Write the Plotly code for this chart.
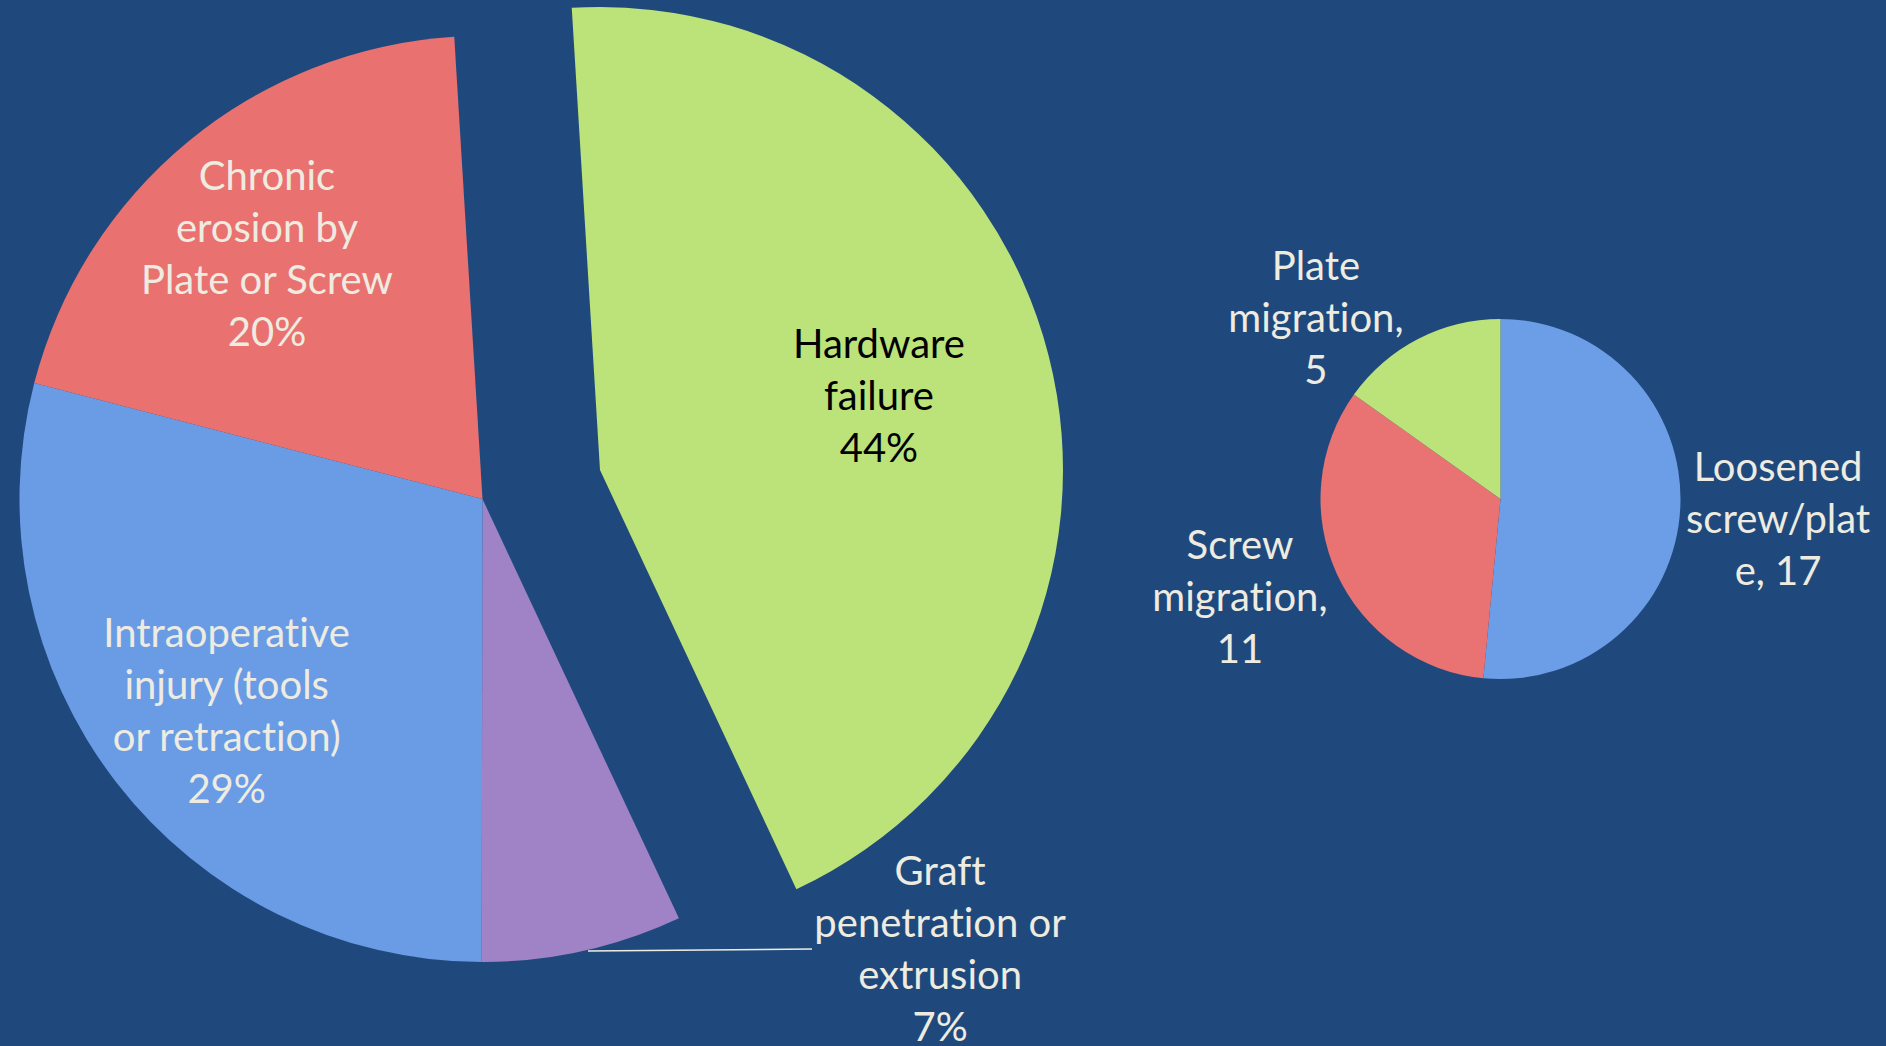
import plotly.graph_objects as go

# ---------------- data ----------------
big_labels = ["Hardware failure", "Graft penetration or extrusion",
              "Intraoperative injury (tools or retraction)", "Chronic erosion by Plate or Screw"]
big_values = [44, 7, 29, 20]
big_text = ["Hardware<br>failure", "Graft<br>penetration or<br>extrusion",
            "Intraoperative<br>injury (tools<br>or retraction)", "Chronic<br>erosion by<br>Plate or Screw"]

small_labels = ["Loosened screw/plate", "Screw migration", "Plate migration"]
small_values = [17, 11, 5]
small_text = ["Loosened<br>screw/plat<br>e", "Screw<br>migration,", "Plate<br>migration,"]

# ---------------- styling / layout ----------------
W, H = 1886, 1046
BG = "#1F497D"
TXT = "#EEECE1"
big_colors = ["#BCE27A", "#A083C6", "#6A9CE6", "#E97271"]
small_colors = ["#6C9DE7", "#E87372", "#BCE27A"]
FONT = "Lato"


def dom(cx, cy, r):
    return dict(x=[(cx - r) / W, (cx + r) / W], y=[1 - (cy + r) / H, 1 - (cy - r) / H])


BIG_C, BIG_R = (482.5, 499), 463
HW_C = (600, 470)          # exploded hardware slice centre
SMALL_C, SMALL_R = (1500.5, 499), 180

fig = go.Figure()

# main pie (hardware slice left transparent; drawn separately, exploded)
fig.add_trace(go.Pie(
    labels=big_labels, values=big_values, sort=False, direction="clockwise",
    rotation=-3.5, textinfo="none", hoverinfo="label+percent",
    marker=dict(colors=["rgba(0,0,0,0)"] + big_colors[1:], line=dict(width=0)),
    domain=dom(*BIG_C, BIG_R), showlegend=False))

fig.add_trace(go.Pie(
    labels=big_labels, values=big_values, sort=False, direction="clockwise",
    rotation=-3.5, textinfo="none", hoverinfo="label+percent",
    marker=dict(colors=[big_colors[0]] + ["rgba(0,0,0,0)"] * 3, line=dict(width=0)),
    domain=dom(*HW_C, BIG_R), showlegend=False))

fig.add_trace(go.Pie(
    labels=small_labels, values=small_values, sort=False, direction="clockwise",
    rotation=0, textinfo="none", hoverinfo="label+value",
    marker=dict(colors=small_colors, line=dict(width=0)),
    domain=dom(*SMALL_C, SMALL_R), showlegend=False))

tot = sum(big_values)
pct = [f"{round(v * 100 / tot)}%" for v in big_values]


def ann(x, y, text, color=TXT, **kw):
    fig.add_annotation(x=x / W, y=1 - y / H, xref="paper", yref="paper",
                       text=text, showarrow=False, align="center",
                       xanchor="center", yanchor="middle",
                       font=dict(family=FONT, size=40, color=color), **kw)


ann(879, 395, f"{big_text[0]}<br>{pct[0]}", color="#000000")
ann(267, 253, f"{big_text[3]}<br>{pct[3]}")
ann(226, 710, f"{big_text[2]}<br>{pct[2]}")

# graft label with leader line
fig.add_annotation(x=588 / W, y=1 - 951 / H, xref="paper", yref="paper",
                   ax=352, ay=-3, axref="pixel", ayref="pixel",
                   text=f"{big_text[1]}<br>{pct[1]}", showarrow=True,
                   arrowhead=0, arrowwidth=1.5, arrowcolor=TXT, align="center",
                   font=dict(family=FONT, size=40, color=TXT))

ann(1778, 518, f"{small_text[0]}, {small_values[0]}")
ann(1240, 596, f"{small_text[1]}<br>{small_values[1]}")
ann(1316, 317, f"{small_text[2]}<br>{small_values[2]}")

fig.update_layout(width=W, height=H, autosize=False,
                  margin=dict(l=0, r=0, t=0, b=0, pad=0),
                  paper_bgcolor=BG, plot_bgcolor=BG)

post = ("document.body.style.margin='0';document.body.style.overflow='hidden';"
        "document.body.style.background='" + BG + "';"
        "var s=document.createElement('style');"
        "s.textContent='text{font-variant-ligatures:none !important;font-feature-settings:\"liga\" 0,\"clig\" 0 !important;}';"
        "document.head.appendChild(s);")

fig.write_html("out.html", config={"displayModeBar": False}, post_script=post)
